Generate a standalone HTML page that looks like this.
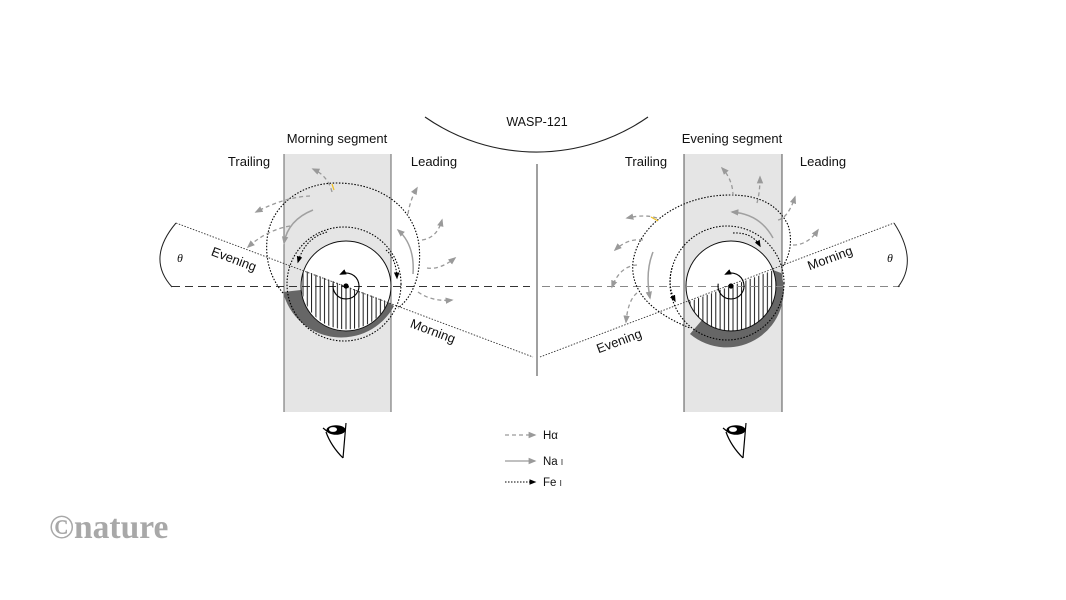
<!DOCTYPE html>
<html><head><meta charset="utf-8"><style>
html,body{margin:0;padding:0;background:#fff;}
svg{display:block;}
text{font-family:"Liberation Sans",Arial,sans-serif;fill:#111;}
</style></head><body>
<svg width="1066" height="600" viewBox="0 0 1066 600" xmlns="http://www.w3.org/2000/svg">
<defs>
<marker id="ag" viewBox="0 0 10 10" refX="8" refY="5" markerWidth="8" markerHeight="8" markerUnits="userSpaceOnUse" orient="auto"><path d="M0,1 L10,5 L0,9 z" fill="#9a9a9a"/></marker>
<marker id="ab" viewBox="0 0 10 10" refX="8" refY="5" markerWidth="7" markerHeight="7" markerUnits="userSpaceOnUse" orient="auto"><path d="M0,1 L10,5 L0,9 z" fill="#000"/></marker>
<pattern id="hatch" width="4.3" height="10" patternUnits="userSpaceOnUse"><line x1="2" y1="0" x2="2" y2="10" stroke="#000" stroke-width="0.9"/></pattern>
</defs>
<rect width="1066" height="600" fill="#fff"/>

<!-- WASP arc -->
<path d="M425,117 A195,195 0 0 0 648,117" fill="none" stroke="#222" stroke-width="1.1"/>
<text x="537" y="126" font-size="12.5" text-anchor="middle">WASP-121</text>
<line x1="537" y1="164" x2="537" y2="376" stroke="#777" stroke-width="1.4"/>

<!-- bands -->
<rect x="284" y="154" width="107" height="258" fill="#e5e5e5"/>
<line x1="284" y1="154" x2="284" y2="412" stroke="#666" stroke-width="1"/>
<line x1="391" y1="154" x2="391" y2="412" stroke="#666" stroke-width="1"/>
<rect x="684" y="154" width="98" height="258" fill="#e5e5e5"/>
<line x1="684" y1="154" x2="684" y2="412" stroke="#555" stroke-width="1"/>
<line x1="782" y1="154" x2="782" y2="412" stroke="#555" stroke-width="1"/>

<!-- labels -->
<text x="337" y="143" font-size="13" text-anchor="middle">Morning segment</text>
<text x="249" y="166" font-size="13" text-anchor="middle">Trailing</text>
<text x="434" y="166" font-size="13" text-anchor="middle">Leading</text>
<text x="732" y="143" font-size="13" text-anchor="middle">Evening segment</text>
<text x="646" y="166" font-size="13" text-anchor="middle">Trailing</text>
<text x="823" y="166" font-size="13" text-anchor="middle">Leading</text>

<!-- LEFT PLANET -->
<path d="M283,292 A60,60 0 0 0 394,306 L388,302 A45,45 0 0 1 301,290 Z" fill="#666"/>
<circle cx="346" cy="286" r="45" fill="#fff" stroke="#111" stroke-width="1"/>
<path d="M303.9,270.2 A45,45 0 0 0 388.1,301.8 Z" fill="url(#hatch)"/>

<!-- RIGHT PLANET -->
<path d="M773,270 L781,273 A57,57 0 0 1 690,334 L702,320 A45,45 0 0 0 773,270 Z" fill="#666"/>
<circle cx="731" cy="286" r="45" fill="#fff" stroke="#111" stroke-width="1"/>
<path d="M688.8,301.7 A45,45 0 0 0 773.2,270.3 Z" fill="url(#hatch)"/>

<!-- horizontal dashed lines -->
<line x1="172" y1="286.5" x2="530" y2="286.5" stroke="#333" stroke-width="1" stroke-dasharray="8,5"/>
<line x1="542" y1="286.5" x2="900" y2="286.5" stroke="#888" stroke-width="1" stroke-dasharray="8,5"/>

<!-- tilted dotted lines -->
<line x1="176" y1="223" x2="533" y2="357" stroke="#333" stroke-width="0.9" stroke-dasharray="1.5,1.5"/>
<line x1="540" y1="357" x2="894" y2="223" stroke="#333" stroke-width="0.9" stroke-dasharray="1.5,1.5"/>

<!-- theta arcs -->
<path d="M176,223 Q146,258.5 172,287" fill="none" stroke="#222" stroke-width="1"/>
<path d="M894,223 Q918.5,260.5 898,287" fill="none" stroke="#222" stroke-width="1"/>
<text x="180" y="262" font-size="12" font-style="italic" text-anchor="middle" style="font-family:'Liberation Serif',serif">θ</text>
<text x="890" y="262" font-size="12" font-style="italic" text-anchor="middle" style="font-family:'Liberation Serif',serif">θ</text>

<!-- Evening / Morning labels -->
<text transform="translate(234,259) rotate(20.6)" font-size="13" text-anchor="middle" dominant-baseline="central">Evening</text>
<text transform="translate(433,331) rotate(20.6)" font-size="13" text-anchor="middle" dominant-baseline="central">Morning</text>
<text transform="translate(830,258) rotate(-20.4)" font-size="13" text-anchor="middle" dominant-baseline="central">Morning</text>
<text transform="translate(619,341) rotate(-20.4)" font-size="13" text-anchor="middle" dominant-baseline="central">Evening</text>

<!-- LEFT Fe dotted -->
<g fill="none" stroke="#000" stroke-width="1.1" stroke-dasharray="1.5,1.6">
<circle cx="344" cy="284" r="57"/>
<path d="M283,293 C272,280 265,262 267,240 C270,205 302,183 336,183 C382,183 414,208 419,245 C422,272 414,296 398,308"/>
<path d="M327,232 Q305,238 298,262" marker-end="url(#ab)"/>
<path d="M386,250 Q396,258 397,278" marker-end="url(#ab)"/>
</g>
<!-- RIGHT Fe dotted -->
<g fill="none" stroke="#000" stroke-width="1.1" stroke-dasharray="1.5,1.6">
<circle cx="727" cy="283" r="57"/>
<path d="M783,266 C790,255 793,240 788,225 C778,205 760,195 730,195 C680,195 638,225 633,262 C630,290 650,312 690,328"/>
<path d="M733,233 Q752,232 760,246" marker-end="url(#ab)"/>
<path d="M672,268 Q667,285 675,301" marker-end="url(#ab)"/>
</g>

<!-- rotation arrows -->
<path d="M333.2,283.7 A13,13 0 1 0 340.5,274.2" fill="none" stroke="#000" stroke-width="1.1" marker-end="url(#ab)"/>
<path d="M718.2,283.7 A13,13 0 1 0 725.5,274.2" fill="none" stroke="#000" stroke-width="1.1" marker-end="url(#ab)"/>
<circle cx="346" cy="286" r="2.6" fill="#000"/>
<circle cx="731" cy="286" r="2.6" fill="#000"/>

<!-- Na solid gray arrows -->
<g fill="none" stroke="#a0a0a0" stroke-width="1.5">
<path d="M313,210 Q288,220 284,243" marker-end="url(#ag)"/>
<path d="M413,274 Q415,245 398,230" marker-end="url(#ag)"/>
<path d="M773,238 Q760,214 732,212" marker-end="url(#ag)"/>
<path d="M653,252 Q645,272 650,298" marker-end="url(#ag)"/>
</g>

<!-- H-alpha dashed gray arrows -->
<g fill="none" stroke="#9a9a9a" stroke-width="1.3" stroke-dasharray="4,3">
<path d="M332,192 Q328,176 313,169" marker-end="url(#ag)"/>
<path d="M310,196 Q285,197 256,212" marker-end="url(#ag)"/>
<path d="M290,226 Q267,230 248,247" marker-end="url(#ag)"/>
<path d="M408,214 Q410,200 417,188" marker-end="url(#ag)"/>
<path d="M422,240 Q437,238 442,220" marker-end="url(#ag)"/>
<path d="M427,268 Q440,270 455,258" marker-end="url(#ag)"/>
<path d="M418,292 Q432,302 452,300" marker-end="url(#ag)"/>
<path d="M733,196 Q733,180 722,168" marker-end="url(#ag)"/>
<path d="M757,203 Q760,192 760,177" marker-end="url(#ag)"/>
<path d="M778,220 Q788,218 795,197" marker-end="url(#ag)"/>
<path d="M793,245 Q808,245 818,230" marker-end="url(#ag)"/>
<path d="M657,218 Q645,214 627,218" marker-end="url(#ag)"/>
<path d="M643,240 Q628,238 615,250" marker-end="url(#ag)"/>
<path d="M637,265 Q620,266 612,287" marker-end="url(#ag)"/>
<path d="M637,293 Q628,300 626,322" marker-end="url(#ag)"/>
</g>
<line x1="332" y1="184" x2="334" y2="190" stroke="#f0c020" stroke-width="1.2"/>
<line x1="651" y1="217" x2="658" y2="221" stroke="#f0c020" stroke-width="1.2"/>

<!-- eyes -->
<g>
<path d="M323,428 L328,432" stroke="#000" stroke-width="1.2"/>
<ellipse cx="336" cy="430" rx="9.5" ry="4.8" fill="#000"/>
<ellipse cx="333" cy="429.5" rx="4" ry="2.4" fill="#fff"/>
<path d="M326,432 Q331,446 343,458" fill="none" stroke="#000" stroke-width="1.2"/>
<path d="M346,423 L343,458" fill="none" stroke="#000" stroke-width="1.2"/>
</g>
<g transform="translate(400,0)">
<path d="M323,428 L328,432" stroke="#000" stroke-width="1.2"/>
<ellipse cx="336" cy="430" rx="9.5" ry="4.8" fill="#000"/>
<ellipse cx="333" cy="429.5" rx="4" ry="2.4" fill="#fff"/>
<path d="M326,432 Q331,446 343,458" fill="none" stroke="#000" stroke-width="1.2"/>
<path d="M346,423 L343,458" fill="none" stroke="#000" stroke-width="1.2"/>
</g>

<!-- legend -->
<line x1="505" y1="435" x2="535" y2="435" stroke="#9a9a9a" stroke-width="1.2" stroke-dasharray="4,3" marker-end="url(#ag)"/>
<line x1="505" y1="461" x2="535" y2="461" stroke="#9a9a9a" stroke-width="1.3" marker-end="url(#ag)"/>
<line x1="505" y1="482" x2="535" y2="482" stroke="#000" stroke-width="1.1" stroke-dasharray="1.5,1.5" marker-end="url(#ab)"/>
<text x="543" y="439" font-size="11.5">Hα</text>
<text x="543" y="465" font-size="11.5">Na <tspan font-size="8">I</tspan></text>
<text x="543" y="486" font-size="11.5">Fe <tspan font-size="8">I</tspan></text>

<!-- logo -->
<text x="49" y="538" font-size="33.5" font-weight="bold" style="font-family:'Liberation Serif',serif;fill:#a8a8a8">©nature</text>
</svg>
</body></html>
